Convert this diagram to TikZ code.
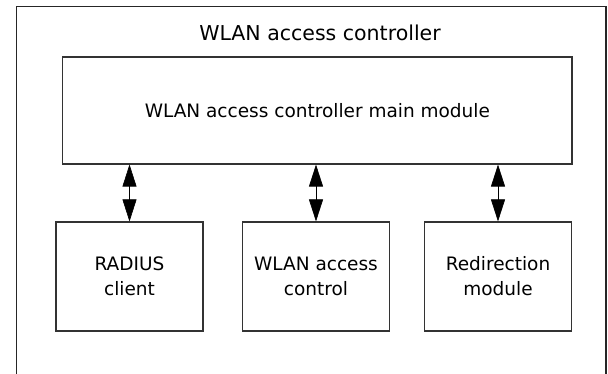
\documentclass[tikz,border=0pt]{standalone}
\usepackage{fontspec}
\setmainfont{DejaVu Sans}
\usetikzlibrary{arrows.meta}
\begin{document}
\begin{tikzpicture}[x=1pt,y=-1pt,
  frame/.style={draw=black!85,line width=1.2pt},
  module/.style={draw=black!80,line width=1.1pt,minimum width=#1,inner sep=0pt,
                 align=center,font=\fontsize{18.5}{25}\selectfont},
  module/.default=147pt,
  link/.style={line width=0.6pt,{Triangle[length=22pt,width=14pt]}-{Triangle[length=22pt,width=14pt]}},
  label/.style={font=\fontsize{20.5}{24}\selectfont,inner sep=0pt}]
  \useasboundingbox (0,0) rectangle (608,374);
  % outer controller frame, open at the bottom edge
  \coordinate (fbl) at (16.5,374);
  \coordinate (ftl) at (16.5,6.5);
  \coordinate (ftr) at (606,6.5);
  \coordinate (fbr) at (606,374);
  \draw[frame] (fbl) -- (ftl) -- (ftr) -- (fbr);
  \node[label,anchor=base] (title) at (320,40.5) {WLAN access controller};
  % main module
  \node[module=509.3pt,minimum height=107pt] (main) at (317.35,110.5)
    {WLAN access controller main module};
  % sub-modules
  \node[module,minimum height=109pt] (radius) at (129.5,276.5) {RADIUS\\client};
  \node[module,minimum height=109pt] (wac) at (316,276.5) {WLAN access\\control};
  \node[module,minimum height=109pt] (redir) at (498,276.5) {Redirection\\module};
  % bidirectional links
  \draw[link] (main.south -| radius.north) -- (radius.north);
  \draw[link] (main.south -| wac.north) -- (wac.north);
  \draw[link] (main.south -| redir.north) -- (redir.north);
\end{tikzpicture}
\end{document}
